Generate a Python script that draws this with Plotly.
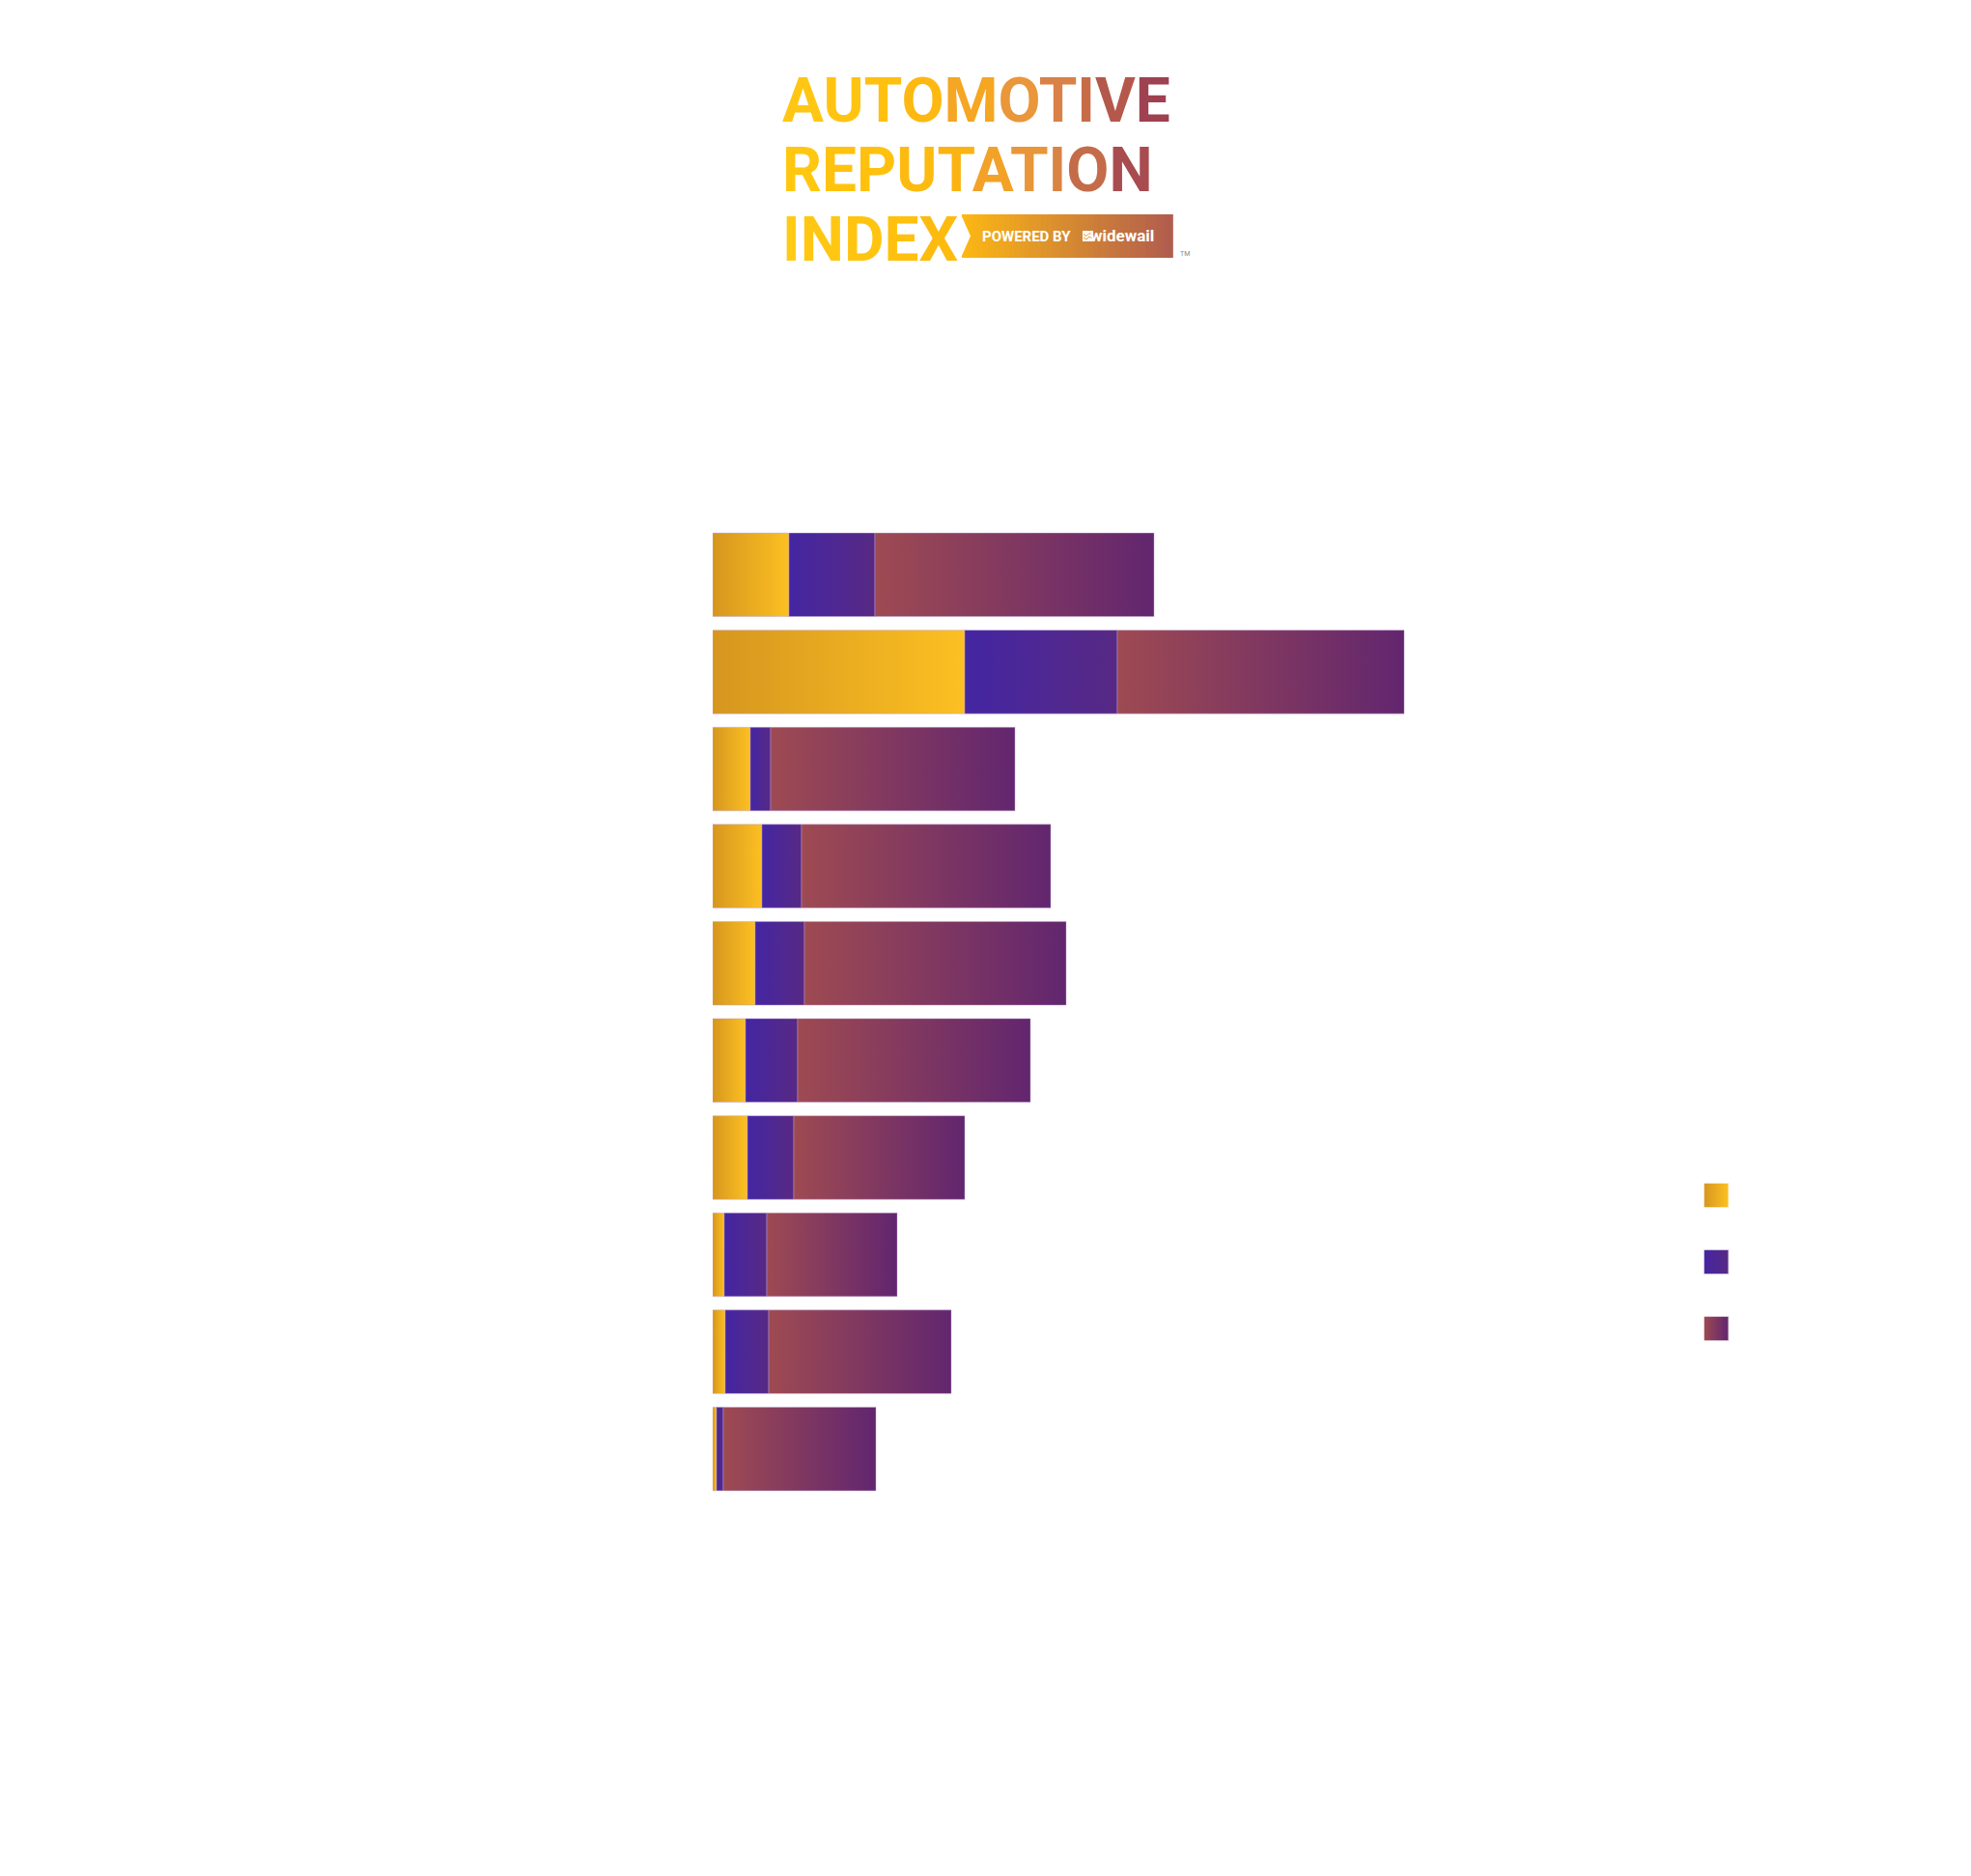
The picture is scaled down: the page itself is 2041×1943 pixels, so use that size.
import plotly.graph_objects as go

# ---------------- data ----------------
categories = ["Brand 1", "Brand 2", "Brand 3", "Brand 4", "Brand 5",
              "Brand 6", "Brand 7", "Brand 8", "Brand 9", "Brand 10"]
series_names = ["Series A", "Series B", "Series C"]
series_a = [7.9, 26.1, 3.9, 5.1, 4.4, 3.4, 3.6, 1.2, 1.3, 0.4]
series_b = [8.9, 15.8, 2.1, 4.1, 5.1, 5.4, 4.8, 4.4, 4.5, 0.7]
series_c = [28.9, 29.7, 25.3, 25.8, 27.1, 24.1, 17.7, 13.5, 18.9, 15.8]

# gradient colours (left -> right) per series
grad_a = ["#D6961F", "#FCC022"]
grad_b = ["#4426A2", "#572984"]
grad_c = ["#9E4A52", "#62266F"]

# ---------------- layout constants ----------------
W, H = 2041, 1943
L, R_EDGE = 738, 1738
T, B_EDGE = 545, 1551
BAR_HALF = 0.43


def px_x(x):
    return (x - L) / (R_EDGE - L)


def px_y(y):
    return (B_EDGE - y) / (B_EDGE - T)


def hex2rgb(h):
    h = h.lstrip("#")
    return [int(h[k:k + 2], 16) for k in (0, 2, 4)]


fig = go.Figure()

series = [(series_names[0], series_a, grad_a),
          (series_names[1], series_b, grad_b),
          (series_names[2], series_c, grad_c)]

for i, cat in enumerate(categories):
    left = 0.0
    for name, vals, (c0, c1) in series:
        v = vals[i]
        right = left + v
        fig.add_trace(go.Scatter(
            x=[left, right, right, left, left],
            y=[i - BAR_HALF, i - BAR_HALF, i + BAR_HALF, i + BAR_HALF, i - BAR_HALF],
            mode="lines",
            fill="toself",
            fillgradient=dict(type="horizontal", colorscale=[[0, c0], [1, c1]]),
            line=dict(width=1, color="rgba(190,160,215,0.45)"),
            name=name,
            text=f"{cat} - {name}: {v}",
            hoverinfo="text",
            hoveron="fills",
            showlegend=False,
        ))
        left = right

shapes = []
annotations = []

# ---------------- manual legend swatches ----------------
legend_centers = [1238, 1307, 1376]
sw_x0, sw_x1 = 1764.5, 1789.5
n_slices = 10
for (name, vals, (c0, c1)), cy in zip(series, legend_centers):
    a, b = hex2rgb(c0), hex2rgb(c1)
    for k in range(n_slices):
        t = (k + 0.5) / n_slices
        col = "rgb(%d,%d,%d)" % tuple(round(a[j] + (b[j] - a[j]) * t) for j in range(3))
        xs0 = sw_x0 + (sw_x1 - sw_x0) * k / n_slices
        xs1 = sw_x0 + (sw_x1 - sw_x0) * (k + 1) / n_slices
        shapes.append(dict(type="rect", xref="paper", yref="paper",
                           x0=px_x(xs0), x1=px_x(xs1 + 0.6),
                           y0=px_y(cy + 12.5), y1=px_y(cy - 12.5),
                           fillcolor=col, line=dict(width=0), layer="above"))
    shapes.append(dict(type="rect", xref="paper", yref="paper",
                       x0=px_x(sw_x0), x1=px_x(sw_x1),
                       y0=px_y(cy + 12.5), y1=px_y(cy - 12.5),
                       fillcolor="rgba(0,0,0,0)",
                       line=dict(width=1, color="rgba(255,255,255,0.45)"), layer="above"))

# ---------------- logo ----------------
line1 = "AUTOMOTIVE"
line1_cols = ["#FFC614", "#FFC412", "#FFC010", "#FDB812", "#F5A623",
              "#EA963A", "#D98146", "#C86C48", "#B5584C", "#9E4150"]
line2 = "REPUTATION"
line2_cols = ["#FFC70F", "#FFC30E", "#FFC00E", "#FDBA10", "#FBB314",
              "#F2A228", "#E8963A", "#D98443", "#C46C4A", "#A84C50"]
line3 = "INDEX"
line3_cols = ["#FFCB17", "#FFC714", "#FFC410", "#FFC00E", "#FDBB10"]


def colored(text, cols):
    return "".join(f"<span style='color:{c}'>{ch}</span>" for ch, c in zip(text, cols))


logo_font = dict(family="Roboto", size=64, weight=700)
for txt, cols, cy in [(line1, line1_cols, 101.5), (line2, line2_cols, 173.5), (line3, line3_cols, 245)]:
    annotations.append(dict(text=colored(txt, cols), xref="paper", yref="paper",
                            x=px_x(808), y=px_y(cy + 3), xanchor="left", yanchor="middle",
                            showarrow=False, font=logo_font))

# banner gradient (POWERED BY widewail)
ban_x0, ban_x1, ban_y0, ban_y1 = 996, 1214, 222, 267
ban_c0, ban_c1 = [253, 184, 19], [176, 92, 79]
n_ban = 40
for k in range(n_ban):
    t = (k + 0.5) / n_ban
    col = "rgb(%d,%d,%d)" % tuple(round(ban_c0[j] + (ban_c1[j] - ban_c0[j]) * t) for j in range(3))
    xs0 = ban_x0 + (ban_x1 - ban_x0) * k / n_ban
    xs1 = ban_x0 + (ban_x1 - ban_x0) * (k + 1) / n_ban
    shapes.append(dict(type="rect", xref="paper", yref="paper",
                       x0=px_x(xs0), x1=px_x(xs1 + 0.8),
                       y0=px_y(ban_y1), y1=px_y(ban_y0),
                       fillcolor=col, line=dict(width=0), layer="above"))
# white chevron notch on the left of the banner
notch = "M {},{} L {},{} L {},{} Z".format(
    px_x(ban_x0 - 1), px_y(ban_y0), px_x(ban_x0 + 9), px_y((ban_y0 + ban_y1) / 2), px_x(ban_x0 - 1), px_y(ban_y1))
shapes.append(dict(type="path", xref="paper", yref="paper", path=notch,
                   fillcolor="white", line=dict(width=0), layer="above"))

# small widewail icon: white square with wave lines
ic_x0, ic_x1, ic_y0, ic_y1 = 1121, 1132, 239, 250
shapes.append(dict(type="rect", xref="paper", yref="paper",
                   x0=px_x(ic_x0), x1=px_x(ic_x1), y0=px_y(ic_y1), y1=px_y(ic_y0),
                   fillcolor="white", line=dict(width=0), layer="above"))
for off in (3.5, 7.0):
    wave = "M {},{} L {},{} L {},{} L {},{}".format(
        px_x(ic_x0 + 1), px_y(ic_y0 + off), px_x(ic_x0 + 4), px_y(ic_y0 + off + 2),
        px_x(ic_x0 + 7), px_y(ic_y0 + off - 1), px_x(ic_x1 - 1), px_y(ic_y0 + off + 1))
    shapes.append(dict(type="path", xref="paper", yref="paper", path=wave,
                       line=dict(width=1, color="rgb(226,150,50)"), layer="above"))

annotations.append(dict(text="POWERED BY", xref="paper", yref="paper",
                        x=px_x(1015), y=px_y(245), xanchor="left", yanchor="middle",
                        showarrow=False, font=dict(family="Roboto", size=15, weight=700, color="white")))
annotations.append(dict(text="widewail", xref="paper", yref="paper",
                        x=px_x(1197), y=px_y(244), xanchor="right", yanchor="middle",
                        showarrow=False, font=dict(family="Roboto", size=17, weight=700, color="white")))
annotations.append(dict(text="TM", xref="paper", yref="paper",
                        x=px_x(1220), y=px_y(263), xanchor="left", yanchor="middle",
                        showarrow=False, font=dict(family="Roboto", size=7, color="#888888")))

fig.update_layout(
    width=W, height=H,
    margin=dict(l=L, r=W - R_EDGE, t=T, b=H - B_EDGE, pad=0),
    paper_bgcolor="white", plot_bgcolor="white",
    showlegend=False,
    xaxis=dict(range=[0, 100], showgrid=False, zeroline=False, showline=False,
               showticklabels=False, ticks=""),
    yaxis=dict(range=[len(categories) - 0.5, -0.5], showgrid=False, zeroline=False,
               showline=False, showticklabels=False, ticks=""),
    shapes=shapes,
    annotations=annotations,
)

fig.write_html("out.html", config={"displayModeBar": False},
               post_script="document.body.style.margin='0';")
